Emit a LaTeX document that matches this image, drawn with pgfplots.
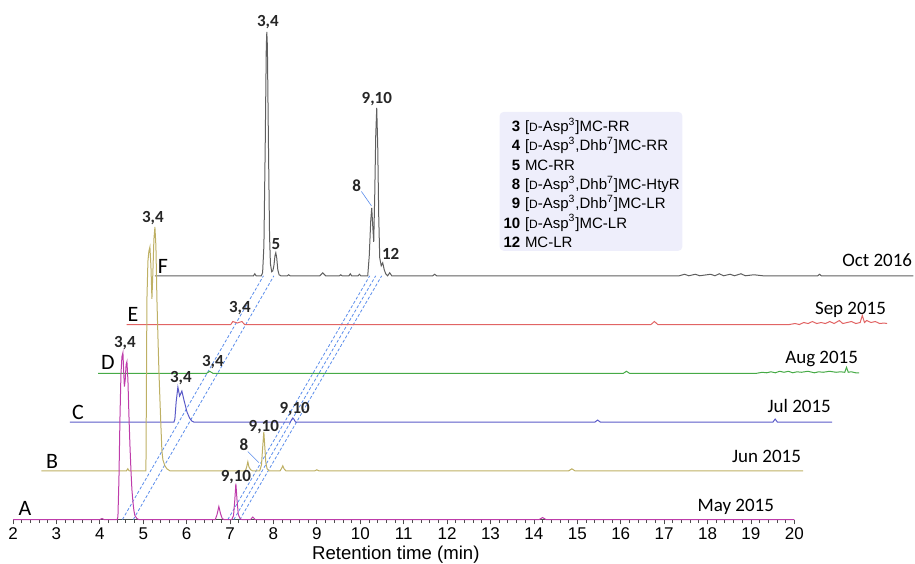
\documentclass[border=0pt]{standalone}
\usepackage{fontspec}
\setmainfont{Liberation Sans}
\newfontfamily\calfont{Carlito}
\usepackage{pgfplots}
\usepackage{pgfplotstable}
\pgfplotsset{compat=1.18}

\definecolor{trA}{RGB}{190,60,170}
\definecolor{trB}{RGB}{190,176,100}
\definecolor{trC}{RGB}{90,90,200}
\definecolor{trD}{RGB}{70,170,70}
\definecolor{trE}{RGB}{225,100,100}
\definecolor{trF}{RGB}{95,95,95}
\definecolor{guidecol}{RGB}{90,140,235}
\definecolor{legbg}{RGB}{238,238,251}

\tikzset{
  gline/.style={guidecol, line width=0.4pt, dash pattern=on 1.5pt off 1pt},
  trace/.style={line width=0.5pt},
  pk/.style={font=\calfont\bfseries\fontsize{8.5}{9}\selectfont, text=black!85, anchor=base, inner sep=0pt},
  tr/.style={font=\calfont\fontsize{11}{12}\selectfont, inner sep=0pt},
  dt/.style={font=\calfont\fontsize{9.5}{10}\selectfont, anchor=base east, inner sep=0pt},
  lg/.style={font=\fontsize{7.5}{8}\selectfont, inner sep=0pt, anchor=base west},
  ln/.style={font=\bfseries\fontsize{7.5}{8}\selectfont, inner sep=0pt, anchor=base east},
}

% offset of one trace against the one in front (min, signal units)
\newcommand{\offx}{0.654}
\newcommand{\offy}{48.8}

% traces in their own frame: retention time, signal above baseline
\pgfplotstableread{
t h
2.00 0
4.00 0
4.05 1
4.10 0
4.40 0
4.417 3
4.44 40
4.463 100
4.486 145
4.509 163
4.532 167
4.548 150
4.565 133
4.585 140
4.605 155
4.624 158
4.647 140
4.67 105
4.693 75
4.716 50
4.739 30
4.762 18
4.785 9
4.808 4
4.854 1
4.90 0
6.66 0
6.70 5
6.742 13
6.78 6
6.82 1
6.86 0
7.04 0
7.08 4
7.11 20
7.134 36
7.16 20
7.19 5
7.23 1
7.27 0
7.47 0
7.525 2.5
7.58 0
14.12 0
14.20 2
14.28 0
20.00 0
}\dataA

\pgfplotstableread{
t h
2.00 0
3.96 0
3.99 2
4.02 0
4.408 0
4.419 80
4.431 172
4.454 210
4.477 220
4.50 224
4.523 205
4.546 172
4.569 200
4.592 232
4.615 244
4.638 225
4.661 172
4.684 135
4.707 100
4.73 72
4.753 45
4.776 20
4.799 11
4.845 5
4.891 2
4.96 0
6.70 0
6.73 4
6.756 9
6.78 4
6.82 1
6.86 0
7.03 0
7.07 6
7.10 25
7.124 39
7.145 25
7.17 8
7.20 2
7.24 0
7.50 0
7.54 3
7.561 5
7.59 2
7.63 0
8.30 0
8.344 1
8.39 0
14.15 0
14.22 2
14.29 0
19.55 0
}\dataB

\pgfplotstableread{
t h
2.00 0
4.40 0
4.421 3
4.45 20
4.49 35
4.53 26
4.582 31
4.63 22
4.70 10
4.76 4
4.81 1
4.86 0
7.08 0
7.12 3
7.138 4
7.16 3
7.20 0
14.10 0
14.16 2
14.22 0
18.20 0
18.25 3
18.30 0
19.56 0
}\dataC

\pgfplotstableread{
t h
2.00 0
4.50 0
4.57 2
4.64 0
14.10 0
14.17 2
14.24 0
17.17 0
17.30 1
17.40 0.5
17.50 1.5
17.60 0.5
17.70 2
17.80 1
17.90 2
18.00 0.5
18.10 1.5
18.20 1
18.35 2
18.50 0.5
18.60 1.5
18.70 1
18.85 2
19.00 1
19.10 1.5
19.20 1
19.24 6
19.28 1
19.35 1.5
19.45 0.5
19.53 0.5
}\dataD

\pgfplotstableread{
t h
2.00 0
4.40 0
4.448 3
4.55 1.5
4.656 3
4.72 0
14.08 0
14.16 3
14.24 0
17.27 0
17.40 1
17.50 0
17.60 2
17.70 1
17.80 3
17.90 1
18.00 2
18.10 1
18.20 3
18.30 1
18.42 4
18.50 1
18.60 2
18.70 3
18.80 1
18.90 2
18.95 9
19.00 2
19.05 4
19.15 2
19.25 3
19.35 1
19.45 1.5
19.52 1
}\dataE

\pgfplotstableread{
t h
2.00 0
4.27 0
4.30 2
4.33 0
4.45 0
4.48 3
4.51 30
4.54 130
4.565 230
4.577 244
4.59 230
4.615 130
4.64 40
4.66 12
4.69 4
4.715 5
4.74 10
4.765 20
4.784 23
4.805 18
4.83 6
4.86 1
4.90 0
5.05 0
5.08 1
5.11 0
5.80 0
5.866 3
5.93 0
6.25 0
6.28 1
6.31 0
6.47 0
6.50 2
6.53 0
6.68 0
6.71 1.5
6.74 0
6.902 0
6.937 20
6.971 55
6.994 68
7.017 50
7.04 34
7.063 80
7.086 140
7.109 168
7.132 130
7.155 60
7.178 18
7.213 10
7.247 13
7.282 6
7.316 2
7.362 0
7.408 3
7.454 0
8.40 0
8.444 1.5
8.49 0
14.08 0
14.20 1.5
14.30 0
14.45 1.5
14.55 0
14.80 1.5
14.90 0
15.00 2
15.10 0
15.25 1.5
15.35 0
15.50 2
15.60 0
15.80 1
16.00 0
17.27 0
17.31 1.5
17.35 0
19.47 0
}\dataF

\begin{document}
\begin{tikzpicture}
\begin{axis}[
  scale only axis, width=391pt, height=244pt,
  xmin=2, xmax=20, ymin=0, ymax=488,
  clip=false,
  axis x line*=bottom, hide y axis,
  xtick={2,...,20}, minor x tick num=4,
  tick align=outside, major tick length=2.4pt, minor tick length=1.8pt,
  tick style={black!70, line width=0.4pt},
  axis line style={black!70, line width=0.5pt},
  xticklabel style={font=\fontsize{8.5}{9}\selectfont, inner sep=1.5pt},
  /pgf/number format/assume math mode=true,
  xlabel={Retention time (min)},
  xlabel style={at={(axis cs:10.82,-40)}, anchor=base, font=\fontsize{9.3}{10}\selectfont},
]
% guide lines joining the same compounds across the traces
\addplot[gline] coordinates {(4.52,0) (7.77,244)};
\addplot[gline] coordinates {(4.77,0) (8.01,244)};
\addplot[gline] coordinates {(6.949,0) (10.218,244)};
\addplot[gline] coordinates {(7.087,0) (10.356,244)};
\addplot[gline] coordinates {(7.225,0) (10.494,244)};

% legend box
\fill[legbg, rounded corners=2pt] (axis cs:13.21,408) rectangle (axis cs:17.42,269);
\newcommand{\dd}{{\fontsize{6}{6}\selectfont D}}
\node[ln] at (axis cs:13.694,388.3) {3};
\node[lg] at (axis cs:13.786,388.3) {[\dd-Asp\textsuperscript{3}]MC-RR};
\node[ln] at (axis cs:13.694,369.0) {4};
\node[lg] at (axis cs:13.786,369.0) {[\dd-Asp\textsuperscript{3},Dhb\textsuperscript{7}]MC-RR};
\node[ln] at (axis cs:13.694,349.7) {5};
\node[lg] at (axis cs:13.786,349.7) {MC-RR};
\node[ln] at (axis cs:13.694,330.4) {8};
\node[lg] at (axis cs:13.786,330.4) {[\dd-Asp\textsuperscript{3},Dhb\textsuperscript{7}]MC-HtyR};
\node[ln] at (axis cs:13.694,311.1) {9};
\node[lg] at (axis cs:13.786,311.1) {[\dd-Asp\textsuperscript{3},Dhb\textsuperscript{7}]MC-LR};
\node[ln] at (axis cs:13.694,291.8) {10};
\node[lg] at (axis cs:13.786,291.8) {[\dd-Asp\textsuperscript{3}]MC-LR};
\node[ln] at (axis cs:13.694,272.5) {12};
\node[lg] at (axis cs:13.786,272.5) {MC-LR};

% traces, back to front
\addplot[trace, trF] table[x expr=\thisrow{t}+5*\offx, y expr=\thisrow{h}+5*\offy] {\dataF};
\addplot[trace, trE] table[x expr=\thisrow{t}+4*\offx, y expr=\thisrow{h}+4*\offy] {\dataE};
\addplot[trace, trD] table[x expr=\thisrow{t}+3*\offx, y expr=\thisrow{h}+3*\offy] {\dataD};
\addplot[trace, trC] table[x expr=\thisrow{t}+2*\offx, y expr=\thisrow{h}+2*\offy] {\dataC};
\addplot[trace, trB] table[x expr=\thisrow{t}+1*\offx, y expr=\thisrow{h}+1*\offy] {\dataB};
\addplot[trace, trA] table[x expr=\thisrow{t}, y expr=\thisrow{h}] {\dataA};

% pointers for peak 8
\addplot[guidecol, line width=0.3pt] coordinates {(10.027,328.3) (10.257,314)};
\addplot[guidecol, line width=0.3pt] coordinates {(7.41,68) (7.663,57)};

% peak labels
\node[pk] at (axis cs:7.87,493.5) {3,4};
\node[pk] at (axis cs:8.054,270.5) {5};
\node[pk] at (axis cs:10.38,416) {9,10};
\node[pk] at (axis cs:9.92,328) {8};
\node[pk] at (axis cs:10.70,260.5) {12};
\node[pk] at (axis cs:5.223,297.5) {3,4};
\node[pk] at (axis cs:7.226,207.5) {3,4};
\node[pk] at (axis cs:4.578,172.5) {3,4};
\node[pk] at (axis cs:6.604,153.5) {3,4};
\node[pk] at (axis cs:5.867,137.5) {3,4};
\node[pk] at (axis cs:8.49,106.5) {9,10};
\node[pk] at (axis cs:7.778,88.5) {9,10};
\node[pk] at (axis cs:7.318,69.5) {8};
\node[pk] at (axis cs:7.134,38.5) {9,10};

% trace letters
\node[tr] at (axis cs:2.276,11) {A};
\node[tr] at (axis cs:2.898,58) {B};
\node[tr] at (axis cs:3.496,107) {C};
\node[tr] at (axis cs:4.187,157) {D};
\node[tr] at (axis cs:4.762,205) {E};
\node[tr] at (axis cs:5.453,253) {F};

% sampling dates
\node[dt] at (axis cs:19.54,8) {May 2015};
\node[dt] at (axis cs:20.16,57) {Jun 2015};
\node[dt] at (axis cs:20.85,107) {Jul 2015};
\node[dt] at (axis cs:21.475,156) {Aug 2015};
\node[dt] at (axis cs:22.12,205) {Sep 2015};
\node[dt] at (axis cs:22.72,253) {Oct 2016};

\coordinate (bbl) at (axis cs:1.70,-44);
\coordinate (btr) at (axis cs:22.78,520);
\end{axis}
\pgfresetboundingbox
\useasboundingbox (bbl) rectangle (btr);
\end{tikzpicture}
\end{document}
